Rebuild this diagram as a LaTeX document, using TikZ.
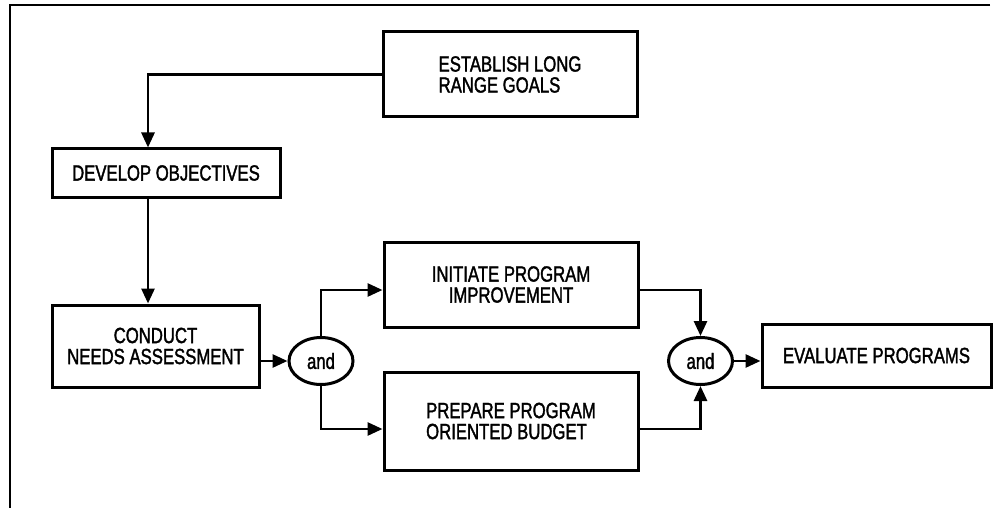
\documentclass[tikz,border=0pt]{standalone}
\usepackage{fontspec}
\setmainfont{Liberation Sans}[FakeStretch=0.76,FakeBold=1.6]
\usetikzlibrary{arrows.meta,shapes.geometric}
\begin{document}
\begin{tikzpicture}[x=1pt,y=-1pt,
  lbl/.style={font=\fontsize{22}{21}\selectfont},
  box/.style={draw, rectangle, line width=3pt, inner sep=0pt, lbl},
  andnode/.style={draw, ellipse, line width=3pt, minimum width=64pt, minimum height=47pt, inner sep=0pt, lbl},
  conn/.style={line width=2.8pt, -{Triangle[length=15pt,width=13pt]}},
  frameline/.style={line width=2.5pt}]
\useasboundingbox (0,0) rectangle (1004,508);
\draw[frameline] (990,5) -- (10,5) -- (10,508);

\node[box, minimum width=254pt, minimum height=85pt, align=left] (est) at (510,74.5) {ESTABLISH LONG\\RANGE GOALS};
\node[box, minimum width=228pt, minimum height=48pt] (dev) at (166,173) {DEVELOP OBJECTIVES};
\node[box, minimum width=207pt, minimum height=82pt, align=center] (cond) at (155.5,346) {CONDUCT\\NEEDS ASSESSMENT};
\node[andnode] (and1) at (321,361) {and};
\node[box, minimum width=254pt, minimum height=85pt, align=center] (init) at (511,284.5) {INITIATE PROGRAM\\IMPROVEMENT};
\node[box, minimum width=254pt, minimum height=98pt, align=left] (prep) at (511,421) {PREPARE PROGRAM\\ORIENTED BUDGET};
\node[andnode] (and2) at (700.5,361) {and};
\node[box, minimum width=229pt, minimum height=63pt] (eval) at (876.5,355.5) {EVALUATE PROGRAMS};

\draw[conn] (est.west) -| ([xshift=-18pt]dev.north);
\draw[conn] ([xshift=-18pt]dev.south) -- ([xshift=-18pt]dev.south |- cond.north);
\draw[conn] (cond.east |- and1.west) -- (and1.west);
\draw[conn] (and1.north) |- ([yshift=-5.5pt]init.west);
\draw[conn] (and1.south) |- ([yshift=-8pt]prep.west);
\draw[conn] ([yshift=-5.5pt]init.east) -| (and2.north);
\draw[conn] ([yshift=-8pt]prep.east) -| (and2.south);
\draw[conn] (and2.east) -- (and2.east -| eval.west);
\end{tikzpicture}
\end{document}
